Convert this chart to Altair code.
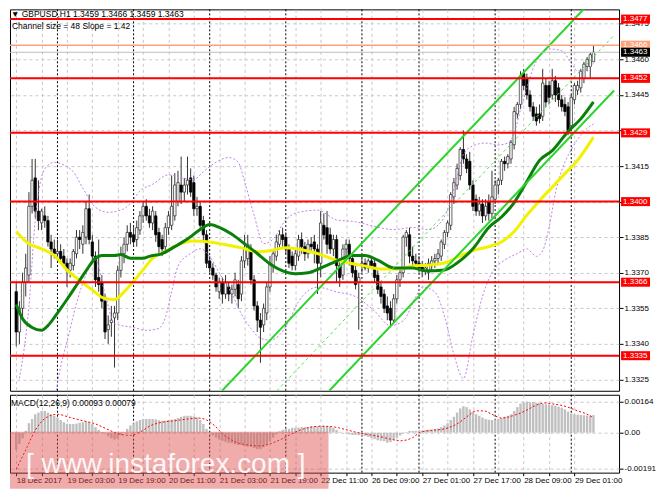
import json
import altair as alt
import pandas as pd

FONT = 'Liberation Sans, Arial, sans-serif'
W = 610
H_MAIN = 382
H_MACD = 78
GAP = 2

# GBPUSD H1 candles, bar 0 = 18 Dec 2017 11:00 ... bar 182 = 29 Dec 2017 07:00
opens = [
    1.3362, 1.3345, 1.3355, 1.3366, 1.3369, 1.3398, 1.3410, 1.3396, 1.3391, 1.3394,
    1.3392, 1.3383, 1.3380, 1.3378, 1.3379, 1.3377, 1.3374, 1.3371, 1.3373, 1.3378,
    1.3385, 1.3382, 1.3385, 1.3397, 1.3383, 1.3377, 1.3368, 1.3366, 1.3358, 1.3346,
    1.3349, 1.3351, 1.3353, 1.3371, 1.3378, 1.3382, 1.3387, 1.3386, 1.3384, 1.3388,
    1.3394, 1.3398, 1.3394, 1.3391, 1.3394, 1.3387, 1.3384, 1.3381, 1.3389, 1.3390,
    1.3394, 1.3400, 1.3407, 1.3404, 1.3407, 1.3410, 1.3408, 1.3397, 1.3398, 1.3392,
    1.3386, 1.3375, 1.3372, 1.3369, 1.3362, 1.3366, 1.3361, 1.3364, 1.3361, 1.3363,
    1.3365, 1.3361, 1.3375, 1.3376, 1.3380, 1.3367, 1.3356, 1.3350, 1.3348, 1.3353,
    1.3364, 1.3373, 1.3377, 1.3382, 1.3386, 1.3385, 1.3380, 1.3377, 1.3373, 1.3377,
    1.3384, 1.3381, 1.3378, 1.3382, 1.3383, 1.3380, 1.3374, 1.3390, 1.3389, 1.3386,
    1.3380, 1.3384, 1.3373, 1.3369, 1.3380, 1.3382, 1.3376, 1.3371, 1.3366, 1.3373,
    1.3374, 1.3372, 1.3375, 1.3374, 1.3369, 1.3364, 1.3361, 1.3356, 1.3355, 1.3350,
    1.3359, 1.3367, 1.3370, 1.3385, 1.3386, 1.3377, 1.3375, 1.3374, 1.3373, 1.3371,
    1.3370, 1.3373, 1.3375, 1.3376, 1.3377, 1.3382, 1.3387, 1.3390, 1.3402, 1.3407,
    1.3411, 1.3422, 1.3418, 1.3417, 1.3407, 1.3401, 1.3396, 1.3399, 1.3394, 1.3400,
    1.3395, 1.3401, 1.3407, 1.3409, 1.3417, 1.3416, 1.3418, 1.3424, 1.3437, 1.3441,
    1.3454, 1.3452, 1.3445, 1.3440, 1.3437, 1.3437, 1.3436, 1.3449, 1.3449, 1.3445,
    1.3451, 1.3448, 1.3443, 1.3441, 1.3440, 1.3432, 1.3443, 1.3447, 1.3448, 1.3452,
    1.3457, 1.3457, 1.3459,
]
highs = [
    1.3366, 1.3358, 1.3370, 1.3378, 1.3404, 1.3418, 1.3418, 1.3409, 1.3397, 1.3398,
    1.3394, 1.3386, 1.3384, 1.3384, 1.3382, 1.3380, 1.3376, 1.3376, 1.3380, 1.3388,
    1.3388, 1.3390, 1.3400, 1.3403, 1.3386, 1.3379, 1.3384, 1.3369, 1.3361, 1.3352,
    1.3356, 1.3356, 1.3373, 1.3381, 1.3385, 1.3390, 1.3391, 1.3390, 1.3392, 1.3396,
    1.3400, 1.3401, 1.3397, 1.3398, 1.3396, 1.3389, 1.3386, 1.3391, 1.3396, 1.3411,
    1.3412, 1.3413, 1.3419, 1.3410, 1.3419, 1.3414, 1.3411, 1.3402, 1.3400, 1.3394,
    1.3388, 1.3377, 1.3374, 1.3370, 1.3368, 1.3368, 1.3369, 1.3366, 1.3365, 1.3370,
    1.3367, 1.3377, 1.3386, 1.3386, 1.3382, 1.3369, 1.3358, 1.3353, 1.3357, 1.3366,
    1.3377, 1.3380, 1.3386, 1.3388, 1.3389, 1.3387, 1.3382, 1.3379, 1.3380, 1.3386,
    1.3387, 1.3383, 1.3384, 1.3385, 1.3386, 1.3382, 1.3396, 1.3395, 1.3396, 1.3389,
    1.3386, 1.3386, 1.3376, 1.3382, 1.3384, 1.3384, 1.3378, 1.3373, 1.3370, 1.3376,
    1.3376, 1.3376, 1.3377, 1.3376, 1.3371, 1.3366, 1.3363, 1.3360, 1.3358, 1.3361,
    1.3369, 1.3372, 1.3386, 1.3388, 1.3389, 1.3381, 1.3378, 1.3377, 1.3375, 1.3374,
    1.3376, 1.3377, 1.3378, 1.3380, 1.3384, 1.3388, 1.3392, 1.3404, 1.3410, 1.3416,
    1.3423, 1.3430, 1.3420, 1.3421, 1.3409, 1.3403, 1.3402, 1.3401, 1.3401, 1.3403,
    1.3413, 1.3409, 1.3410, 1.3418, 1.3419, 1.3420, 1.3426, 1.3440, 1.3442, 1.3455,
    1.3456, 1.3454, 1.3447, 1.3442, 1.3440, 1.3441, 1.3456, 1.3452, 1.3451, 1.3456,
    1.3453, 1.3450, 1.3445, 1.3444, 1.3442, 1.3445, 1.3450, 1.3451, 1.3456, 1.3459,
    1.3461, 1.3463, 1.3466,
]
lows = [
    1.3339, 1.3340, 1.3350, 1.3360, 1.3366, 1.3395, 1.3393, 1.3388, 1.3388, 1.3389,
    1.3381, 1.3372, 1.3376, 1.3375, 1.3374, 1.3372, 1.3364, 1.3368, 1.3371, 1.3376,
    1.3380, 1.3378, 1.3382, 1.3382, 1.3374, 1.3364, 1.3362, 1.3355, 1.3342, 1.3340,
    1.3343, 1.3330, 1.3350, 1.3368, 1.3374, 1.3379, 1.3382, 1.3381, 1.3381, 1.3386,
    1.3391, 1.3392, 1.3389, 1.3388, 1.3383, 1.3378, 1.3377, 1.3378, 1.3386, 1.3388,
    1.3392, 1.3398, 1.3399, 1.3400, 1.3403, 1.3402, 1.3394, 1.3394, 1.3388, 1.3383,
    1.3372, 1.3370, 1.3367, 1.3362, 1.3359, 1.3357, 1.3359, 1.3358, 1.3357, 1.3360,
    1.3355, 1.3358, 1.3372, 1.3373, 1.3365, 1.3354, 1.3345, 1.3332, 1.3345, 1.3350,
    1.3362, 1.3370, 1.3375, 1.3380, 1.3381, 1.3378, 1.3372, 1.3371, 1.3371, 1.3375,
    1.3378, 1.3375, 1.3376, 1.3379, 1.3374, 1.3361, 1.3368, 1.3384, 1.3378, 1.3378,
    1.3377, 1.3366, 1.3364, 1.3367, 1.3376, 1.3373, 1.3368, 1.3363, 1.3346, 1.3370,
    1.3371, 1.3370, 1.3372, 1.3366, 1.3361, 1.3357, 1.3353, 1.3350, 1.3347, 1.3349,
    1.3357, 1.3364, 1.3368, 1.3381, 1.3374, 1.3372, 1.3372, 1.3370, 1.3368, 1.3369,
    1.3367, 1.3371, 1.3372, 1.3374, 1.3375, 1.3380, 1.3385, 1.3388, 1.3399, 1.3405,
    1.3409, 1.3416, 1.3412, 1.3405, 1.3396, 1.3394, 1.3394, 1.3391, 1.3392, 1.3392,
    1.3393, 1.3399, 1.3403, 1.3407, 1.3413, 1.3414, 1.3416, 1.3422, 1.3435, 1.3439,
    1.3447, 1.3443, 1.3438, 1.3434, 1.3432, 1.3433, 1.3434, 1.3440, 1.3441, 1.3443,
    1.3442, 1.3440, 1.3438, 1.3436, 1.3428, 1.3430, 1.3441, 1.3445, 1.3446, 1.3450,
    1.3455, 1.3452, 1.3459,
]
closes = [
    1.3345, 1.3355, 1.3366, 1.3372, 1.3398, 1.3409, 1.3396, 1.3392, 1.3396, 1.3392,
    1.3383, 1.3380, 1.3378, 1.3379, 1.3376, 1.3374, 1.3371, 1.3374, 1.3379, 1.3385,
    1.3384, 1.3387, 1.3397, 1.3384, 1.3377, 1.3367, 1.3365, 1.3358, 1.3345, 1.3348,
    1.3350, 1.3353, 1.3371, 1.3378, 1.3382, 1.3387, 1.3385, 1.3383, 1.3389, 1.3394,
    1.3398, 1.3394, 1.3391, 1.3396, 1.3386, 1.3381, 1.3380, 1.3389, 1.3394, 1.3398,
    1.3407, 1.3408, 1.3404, 1.3407, 1.3409, 1.3404, 1.3397, 1.3398, 1.3390, 1.3386,
    1.3374, 1.3372, 1.3369, 1.3364, 1.3366, 1.3361, 1.3366, 1.3361, 1.3363, 1.3367,
    1.3359, 1.3375, 1.3380, 1.3382, 1.3367, 1.3356, 1.3350, 1.3347, 1.3355, 1.3364,
    1.3374, 1.3378, 1.3383, 1.3386, 1.3384, 1.3380, 1.3374, 1.3373, 1.3378, 1.3384,
    1.3381, 1.3378, 1.3382, 1.3381, 1.3380, 1.3374, 1.3391, 1.3386, 1.3382, 1.3380,
    1.3384, 1.3373, 1.3368, 1.3380, 1.3382, 1.3376, 1.3370, 1.3365, 1.3368, 1.3374,
    1.3372, 1.3375, 1.3373, 1.3368, 1.3363, 1.3360, 1.3355, 1.3353, 1.3350, 1.3359,
    1.3367, 1.3370, 1.3385, 1.3387, 1.3377, 1.3375, 1.3374, 1.3372, 1.3371, 1.3372,
    1.3374, 1.3375, 1.3376, 1.3378, 1.3383, 1.3387, 1.3391, 1.3403, 1.3408, 1.3414,
    1.3422, 1.3418, 1.3414, 1.3407, 1.3398, 1.3396, 1.3399, 1.3394, 1.3398, 1.3395,
    1.3402, 1.3407, 1.3409, 1.3417, 1.3416, 1.3419, 1.3425, 1.3438, 1.3441, 1.3453,
    1.3449, 1.3445, 1.3440, 1.3436, 1.3434, 1.3435, 1.3450, 1.3442, 1.3444, 1.3451,
    1.3445, 1.3443, 1.3440, 1.3438, 1.3430, 1.3444, 1.3449, 1.3449, 1.3455, 1.3458,
    1.3460, 1.3462, 1.3463,
]

# moving averages (bar, price)
yellow_bars = [0, 4, 8, 12, 16, 20, 24, 28, 31, 34, 37, 40, 43, 47, 51, 56, 61, 66, 71, 76, 80,
               85, 90, 95, 100, 105, 110, 115, 120, 125, 130, 135, 139, 144, 149, 153, 157, 161,
               165, 169, 173, 177, 182]
yellow_prices = [1.33874, 1.33822, 1.33801, 1.33773, 1.33712, 1.33668, 1.33627, 1.33591, 1.33587,
                 1.33619, 1.33664, 1.33712, 1.33761, 1.33789, 1.33818, 1.33834, 1.33830, 1.33818,
                 1.33805, 1.33789, 1.33793, 1.33805, 1.33797, 1.33781, 1.33757, 1.33741, 1.33728,
                 1.33716, 1.33716, 1.33728, 1.33732, 1.33741, 1.33765, 1.33793, 1.33810, 1.33830,
                 1.33874, 1.33943, 1.34004, 1.34061, 1.34118, 1.34174, 1.34272]
green_bars = [0, 2, 5, 8, 10, 13, 16, 19, 22, 25, 27, 31, 33, 36, 40, 42, 46, 50, 54, 58, 61, 64,
              68, 72, 76, 80, 84, 88, 92, 96, 101, 106, 110, 114, 119, 125, 129, 135, 139, 144,
              149, 153, 157, 161, 165, 169, 174, 178, 182]
green_prices = [1.33566, 1.33506, 1.33469, 1.33457, 1.33477, 1.33530, 1.33587, 1.33647, 1.33708,
                1.33761, 1.33773, 1.33773, 1.33777, 1.33761, 1.33761, 1.33769, 1.33781, 1.33810,
                1.33842, 1.33882, 1.33903, 1.33891, 1.33862, 1.33822, 1.33781, 1.33737, 1.33708,
                1.33696, 1.33700, 1.33720, 1.33749, 1.33773, 1.33773, 1.33753, 1.33720, 1.33720,
                1.33708, 1.33712, 1.33741, 1.33801, 1.33891, 1.33935, 1.33996, 1.34085, 1.34174,
                1.34215, 1.34296, 1.34349, 1.34421]

# bollinger bands
upper_bars = [1, 4, 6, 9, 12, 15, 18, 21, 25, 29, 33, 36, 39, 43, 48, 53, 56, 59, 63, 67, 70, 72,
              75, 78, 81, 85, 89, 95, 101, 107, 113, 119, 125, 130, 134, 137, 139, 141, 144, 148,
              152, 155, 157, 159, 161, 163, 165, 168, 172, 175, 177, 180, 182]
upper_prices = [1.33254, 1.33558, 1.33923, 1.34138, 1.34166, 1.34154, 1.34126, 1.34057, 1.33976,
                1.33955, 1.33964, 1.33992, 1.34045, 1.34073, 1.34113, 1.34097, 1.34093, 1.34126,
                1.34166, 1.34186, 1.34166, 1.34085, 1.33943, 1.33822, 1.33842, 1.33923, 1.33955,
                1.33964, 1.33923, 1.33915, 1.33895, 1.33882, 1.33891, 1.33882, 1.33915, 1.34004,
                1.34105, 1.34199, 1.34235, 1.34247, 1.34239, 1.34247, 1.34288, 1.34389, 1.34478,
                1.34563, 1.34612, 1.34644, 1.34636, 1.34584, 1.34551, 1.34559, 1.34584]
lower_bars = [12, 14, 16, 19, 22, 25, 28, 31, 37, 41, 45, 47, 49, 51, 55, 58, 61, 64, 68, 71, 74,
              77, 80, 83, 86, 89, 95, 101, 107, 113, 118, 122, 126, 128, 132, 135, 138, 141, 144,
              147, 150, 154, 158, 161, 164, 166, 168, 170, 173, 175, 179, 182]
lower_prices = [1.33153, 1.33303, 1.33408, 1.33570, 1.33692, 1.33753, 1.33611, 1.33485, 1.33469,
                1.33457, 1.33465, 1.33510, 1.33619, 1.33728, 1.33781, 1.33801, 1.33769, 1.33700,
                1.33611, 1.33526, 1.33465, 1.33424, 1.33416, 1.33437, 1.33497, 1.33578, 1.33639,
                1.33619, 1.33599, 1.33538, 1.33477, 1.33497, 1.33599, 1.33639, 1.33619, 1.33518,
                1.33356, 1.33254, 1.33437, 1.33599, 1.33700, 1.33753, 1.33781, 1.33801, 1.33769,
                1.33793, 1.33891, 1.34036, 1.34166, 1.34219, 1.34296, 1.34328]

# equidistant channel (size 48, slope 1.42): two anchor points per line
chan_line = ['upper', 'upper', 'middle', 'middle', 'lower', 'lower']
chan_bar = [64.9, 188.5, 82.2, 188.5, 98.7, 188.5]
chan_price = [1.33202, 1.34947, 1.33202, 1.34702, 1.33202, 1.34469]

# horizontal levels and price tags
level_prices = [1.3477, 1.3452, 1.3429, 1.3400, 1.3366, 1.3335]
bid_price = 1.3466
last_price = 1.3463
price_ticks = [1.3325, 1.3340, 1.3355, 1.3370, 1.3385, 1.3400, 1.3415, 1.3430, 1.3445, 1.3460, 1.3475]

# MACD(12,26,9)
macd_hist = [
    -0.0009, -0.0006, -0.0003, 0.0001, 0.0005, 0.00072, 0.00097, 0.00106, 0.00115, 0.00115,
    0.00106, 0.00097, 0.00089, 0.0008, 0.00067, 0.00055, 0.00048, 0.00046, 0.00046, 0.00048,
    0.00052, 0.00055, 0.0006, 0.00055, 0.00046, 0.00029, 0.00015, 0.00003, -0.00005, -0.00019,
    -0.00029, -0.00036, -0.00031, -0.00014, 0.00003, 0.0002, 0.00038, 0.0005, 0.0006, 0.00067,
    0.00072, 0.00072, 0.00072, 0.00072, 0.0007, 0.00065, 0.00063, 0.00063, 0.00066, 0.00068,
    0.00072, 0.00077, 0.00084, 0.00089, 0.00089, 0.00089, 0.00086, 0.0008, 0.00067, 0.00046,
    0.0002, 0.00003, -0.00014, -0.00026, -0.00036, -0.00043, -0.00048, -0.00053, -0.00055, -0.00062,
    -0.00065, -0.00066, -0.00072, -0.00074, -0.00076, -0.00082, -0.00087, -0.00087, -0.00077, -0.00065,
    -0.00048, -0.00026, -0.00009, 0.00007, 0.00015, 0.0002, 0.0002, 0.00026, 0.00026, 0.00027,
    0.00029, 0.00029, 0.0003, 0.00034, 0.00034, 0.00034, 0.00036, 0.00036, 0.00035, 0.00032,
    0.00026, 0.00015, 0.00005, 0.0, -0.00005, -0.00009, -0.00012, -0.00012, -0.00013, -0.00015,
    -0.00018, -0.00022, -0.00028, -0.00034, -0.0004, -0.00043, -0.00045, -0.00053, -0.0005, -0.00039,
    -0.00026, -0.00015, -0.00005, 0.00003, 0.00009, 0.00009, 0.0001, 0.00012, 0.00012, 0.00013,
    0.00016, 0.00017, 0.00019, 0.00022, 0.00029, 0.00038, 0.0005, 0.00067, 0.00084, 0.00106,
    0.00128, 0.0014, 0.00135, 0.00123, 0.00111, 0.00097, 0.00089, 0.0008, 0.00072, 0.00068,
    0.00067, 0.00069, 0.00072, 0.00077, 0.00084, 0.00089, 0.00097, 0.00115, 0.00135, 0.00152,
    0.0016, 0.00164, 0.0016, 0.00162, 0.00158, 0.00156, 0.00152, 0.0015, 0.00148, 0.00145,
    0.00142, 0.00137, 0.00132, 0.00123, 0.00111, 0.00101, 0.00097, 0.00095, 0.00094, 0.00092,
    0.0009, 0.00091, 0.00093,
]
signal_bars = [0, 3, 6, 9.5, 13, 17, 21, 25, 28.5, 32, 36, 39, 42.5, 46, 50, 54, 57.5, 60, 62.5, 65,
               69, 73, 77, 80.5, 84, 88, 92, 96, 99.5, 103, 107, 111, 115, 118.5, 121, 125, 127.5,
               131, 135, 139, 142.5, 145, 147.5, 150, 153, 156.5, 160.5, 164, 166.5, 169, 173, 177,
               179.5, 182]
signal_vals = [-0.00193, -0.00091, 0.00012, 0.0008, 0.00097, 0.0008, 0.00063, 0.00046, 0.0002,
               -0.00005, -0.00014, 0.00003, 0.00038, 0.00055, 0.00063, 0.00072, 0.00077, 0.00067,
               0.00038, -0.00005, -0.00048, -0.00065, -0.0007, -0.00056, -0.00031, 0.00003, 0.00026,
               0.00034, 0.00032, 0.0002, 0.00003, -0.0001, -0.00022, -0.00036, -0.00043, -0.00026,
               0.00003, 0.00012, 0.0002, 0.00046, 0.00089, 0.00115, 0.00115, 0.00097, 0.00077,
               0.00089, 0.00115, 0.00145, 0.00157, 0.00152, 0.0014, 0.00115, 0.00101, 0.00079]
macd_ticks = [0.00164, 0.0, -0.00191]

# time axis
grid_bars = list(range(0, 184, 8))
time_labels = ['18 Dec 2017', '19 Dec 03:00', '19 Dec 19:00', '20 Dec 11:00', '21 Dec 03:00',
               '21 Dec 19:00', '22 Dec 11:00', '26 Dec 09:00', '27 Dec 01:00', '27 Dec 17:00',
               '28 Dec 09:00', '29 Dec 01:00']
day_breaks = [13, 37, 61, 85, 109, 127, 151, 175]

header_text = '\u25bc GBPUSD,H1  1.3459 1.3466 1.3459 1.3463'
channel_text = 'Channel size = 48 Slope = 1.42'
macd_text = 'MACD(12,26,9) 0.00093 0.00079'
watermark = '[ www.instaforex.com ]'

# ---------------------------------------------------------------- frames
candles = pd.DataFrame({'bar': range(len(opens)), 'open': opens, 'high': highs,
                        'low': lows, 'close': closes})
candles['top'] = candles[['open', 'close']].max(axis=1)
candles['bot'] = candles[['open', 'close']].min(axis=1)
candles['up'] = candles['close'] >= candles['open']

bands = pd.concat([
    pd.DataFrame({'band': 'upper', 'bar': upper_bars, 'price': upper_prices}),
    pd.DataFrame({'band': 'lower', 'bar': lower_bars, 'price': lower_prices}),
])
yellow = pd.DataFrame({'bar': yellow_bars, 'price': yellow_prices})
green = pd.DataFrame({'bar': green_bars, 'price': green_prices})
channel = pd.DataFrame({'line': chan_line, 'bar': chan_bar, 'price': chan_price})

tags = pd.DataFrame({
    'price': level_prices + [bid_price, last_price],
    'label': [f'{p:.4f}' for p in level_prices + [bid_price, last_price]],
    'fill': ['#ff0000'] * len(level_prices) + ['#ffa07a', '#000000'],
    'order': range(len(level_prices) + 2),
})
macd = pd.DataFrame({'bar': range(len(macd_hist)), 'hist': macd_hist})
signal = pd.DataFrame({'bar': signal_bars, 'sig': signal_vals})
seps = pd.DataFrame({'bar': day_breaks})

# ---------------------------------------------------------------- scales / axes
x_scale = alt.Scale(domain=[-0.39, 188.5], nice=False, zero=False)
y_scale = alt.Scale(domain=[1.33202, 1.34811], nice=False, zero=False)
m_scale = alt.Scale(domain=[-0.00211, 0.00200], nice=False, zero=False)

grid_kw = dict(grid=True, gridColor='#c8c8c8', gridDash=[3, 3], gridWidth=1)

x_main = alt.X('bar:Q', scale=x_scale,
               axis=alt.Axis(values=grid_bars, labels=False, ticks=False, domain=False,
                             title=None, **grid_kw))
# tick labels that sit fully under a level tag are left blank
y_axis = alt.Axis(orient='right', values=price_ticks, domain=False,
                  labelExpr="(abs(datum.value - 1.34) < 0.00001 || abs(datum.value - 1.343) < 0.00001) ? '' : format(datum.value, '.4f')",
                  tickColor='#000', tickSize=4, labelPadding=1, labelFontSize=8,
                  labelOverlap=False, title=None, **grid_kw)


def py(field):
    return alt.Y(field, scale=y_scale, axis=y_axis)


label_expr = ("datum.value % 16 == 0 ? " + json.dumps(time_labels)
              + "[datum.value / 16] : ''")
x_macd = alt.X('bar:Q', scale=x_scale,
               axis=alt.Axis(values=grid_bars, labelExpr=label_expr, domain=False,
                             tickColor='#000', tickSize=3, labelAlign='left',
                             labelPadding=1, labelFontSize=8, labelOverlap=False,
                             labelFlush=False, title=None, **grid_kw))
m_axis = alt.Axis(orient='right', values=macd_ticks, domain=False, tickColor='#000',
                  tickSize=4, labelPadding=1, labelFontSize=8, labelOverlap=False,
                  labelExpr="datum.value == 0 ? '0.00' : (datum.value < 0 ? '-' : '') + format(abs(datum.value), '.5f')",
                  title=None, **grid_kw)

# ---------------------------------------------------------------- main panel
sep_main = alt.Chart(seps).mark_rule(color='#000', strokeDash=[2, 2], strokeWidth=1).encode(x=x_main)

wicks = alt.Chart(candles).mark_rule(color='#333333', strokeWidth=1).encode(
    x=x_main, y=py('low:Q'), y2='high:Q')
body_up = alt.Chart(candles).transform_filter('datum.up').mark_bar(
    size=2.4, fill='#ffffff', stroke='#222222', strokeWidth=0.7).encode(
    x=x_main, y=py('bot:Q'), y2='top:Q')
body_dn = alt.Chart(candles).transform_filter('!datum.up').mark_bar(
    size=2.4, fill='#000000', stroke='#000000', strokeWidth=0.7).encode(
    x=x_main, y=py('bot:Q'), y2='top:Q')

band_lines = alt.Chart(bands).mark_line(
    color='#c080e8', strokeWidth=1, strokeDash=[2, 2], interpolate='monotone', clip=True).encode(
    x=x_main, y=py('price:Q'), detail='band:N')
yellow_line = alt.Chart(yellow).mark_line(
    color='#f2f200', strokeWidth=3, interpolate='monotone').encode(x=x_main, y=py('price:Q'))
green_line = alt.Chart(green).mark_line(
    color='#0a800a', strokeWidth=3, interpolate='monotone').encode(x=x_main, y=py('price:Q'))

chan_solid = alt.Chart(channel).transform_filter("datum.line != 'middle'").mark_line(
    color='#2ed42e', strokeWidth=2, clip=True).encode(x=x_main, y=py('price:Q'), detail='line:N')
chan_mid = alt.Chart(channel).transform_filter("datum.line == 'middle'").mark_line(
    color='#55dd55', strokeWidth=1, strokeDash=[3, 3], clip=True).encode(x=x_main, y=py('price:Q'))

levels = alt.Chart(pd.DataFrame({'price': level_prices})).mark_rule(
    color='#ff0000', strokeWidth=2).encode(y=py('price:Q'))
bid_line = alt.Chart(pd.DataFrame({'price': [bid_price]})).mark_rule(
    color='#ffa07a', strokeWidth=1.5).encode(y=py('price:Q'))
last_line = alt.Chart(pd.DataFrame({'price': [last_price]})).mark_rule(
    color='#c0c0c0', strokeWidth=1).encode(y=py('price:Q'))

tag_box = alt.Chart(tags).transform_calculate(
    lo='datum.price - 0.00019', hi='datum.price + 0.00019').mark_rect().encode(
    x=alt.value(W + 2), x2=alt.value(W + 31), y=py('lo:Q'), y2='hi:Q',
    color=alt.Color('fill:N', scale=None), order='order:Q')
tag_text = alt.Chart(tags).mark_text(
    align='left', baseline='middle', font=FONT, fontSize=8, color='#ffffff').encode(
    x=alt.value(W + 4), y=py('price:Q'), text='label:N', order='order:Q')

head = alt.Chart(pd.DataFrame({'t': [header_text]})).mark_text(
    align='left', baseline='middle', font=FONT, fontSize=8.5, color='#000').encode(
    x=alt.value(1), y=alt.value(5), text='t:N')
chan_note = alt.Chart(pd.DataFrame({'t': [channel_text]})).mark_text(
    align='left', baseline='middle', font=FONT, fontSize=8.5, color='#000').encode(
    x=alt.value(2), y=alt.value(17), text='t:N')

main = alt.layer(
    sep_main, wicks, body_up, body_dn, band_lines, yellow_line, green_line,
    chan_solid, chan_mid, levels, bid_line, last_line, tag_box, tag_text, head, chan_note,
).properties(width=W, height=H_MAIN)

# ---------------------------------------------------------------- MACD panel
sep_macd = alt.Chart(seps).mark_rule(color='#000', strokeDash=[2, 2], strokeWidth=1).encode(x=x_macd)
hist = alt.Chart(macd).mark_bar(size=2.4, color='#c0c0c0').encode(
    x=x_macd, y=alt.Y('hist:Q', scale=m_scale, axis=m_axis), y2=alt.datum(0))
sig_line = alt.Chart(signal).mark_line(
    color='#ff0000', strokeWidth=1, strokeDash=[2, 2], interpolate='monotone').encode(
    x=x_macd, y=alt.Y('sig:Q', scale=m_scale, axis=m_axis))
macd_note = alt.Chart(pd.DataFrame({'t': [macd_text]})).mark_text(
    align='left', baseline='middle', font=FONT, fontSize=8.5, color='#000').encode(
    x=alt.value(1), y=alt.value(8), text='t:N')
wm_box = alt.Chart(pd.DataFrame({'k': [0]})).mark_rect(
    fill='#dd4444', opacity=0.45).encode(
    x=alt.value(0), x2=alt.value(319), y=alt.value(37), y2=alt.value(94))
wm_text = alt.Chart(pd.DataFrame({'t': [watermark]})).mark_text(
    align='left', baseline='alphabetic', font=FONT,
    fontSize=28, color='#ffffff', opacity=0.9).encode(
    x=alt.value(16), y=alt.value(78), text='t:N')

macd_panel = alt.layer(
    sep_macd, hist, sig_line, macd_note, wm_box, wm_text,
).properties(width=W, height=H_MACD)

chart = alt.vconcat(main, macd_panel, spacing=GAP).properties(
    padding={'left': 0, 'right': 0, 'top': 0, 'bottom': 0},
    background='#ffffff',
).configure_view(
    stroke='#000000', strokeWidth=1,
).configure_axis(
    labelFont=FONT, labelColor='#000000',
)

chart.save("out.html", embed_options={"renderer": "svg", "actions": False})
